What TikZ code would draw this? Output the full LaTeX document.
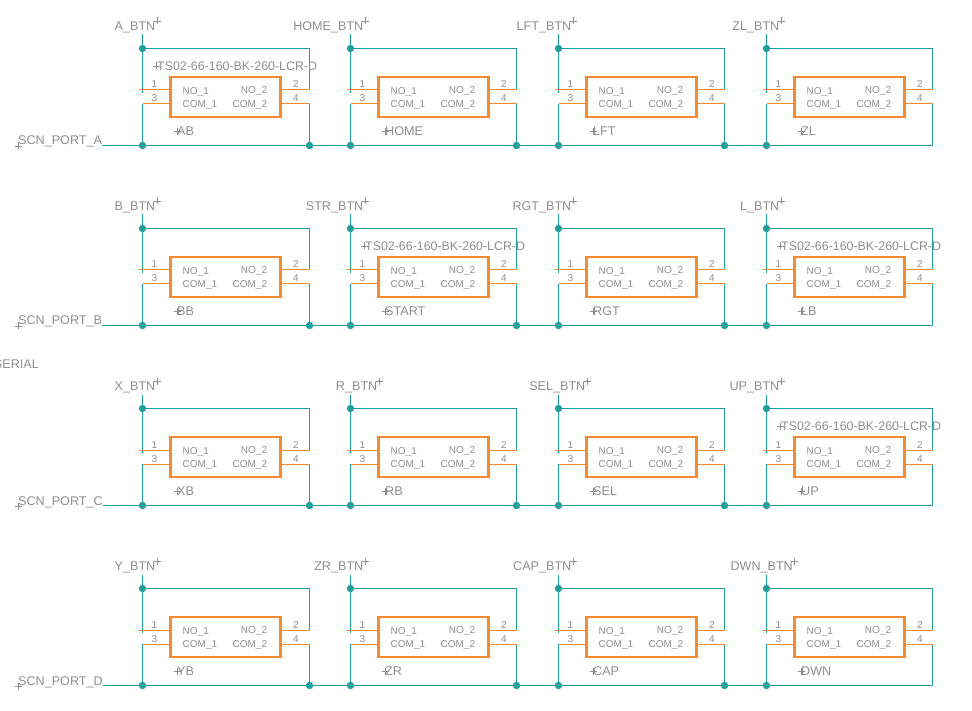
\documentclass[tikz,border=0pt]{standalone}
\usepackage{fontspec}
\setmainfont{Liberation Sans}
\usetikzlibrary{calc}
\definecolor{wirec}{HTML}{1FA09C}
\definecolor{symc}{HTML}{F58B2E}
\definecolor{txtc}{HTML}{8E8E8E}
\tikzset{
  wire/.style={draw=wirec,line width=1pt},
  pinline/.style={draw=symc,line width=1pt},
  partbox/.style={draw=symc,line width=2.5pt,rectangle,inner sep=0pt,minimum width=110pt,minimum height=40pt},
  junction/.style={circle,fill=wirec,draw=none,inner sep=0pt,minimum size=7.4pt},
  txt/.style={text=txtc,inner sep=0pt,font=\fontsize{12.6}{14}\selectfont},
  valtxt/.style={text=txtc,inner sep=0pt,font=\fontsize{12.4}{14}\selectfont},
  small/.style={text=txtc,inner sep=0pt,font=\fontsize{10}{12}\selectfont},
  mk/.style={draw=txtc,line width=0.6pt}
}
\newcommand{\crossmark}[1]{\draw[mk] ($(#1)+(-3.5,0)$) -- ($(#1)+(3.5,0)$) ($(#1)+(0,-3.5)$) -- ($(#1)+(0,3.5)$);}
% id, x, row y offset, net label, reference, value flag, right-hand node style, net mark x, right wire x
\newcommand{\swunit}[9]{%
\begin{scope}[shift={(#2,#3)}]
  \node[partbox] (#1-box) at (83,96.5) {};
  \coordinate (#1-in) at (0,34);
  \coordinate (#1-tick) at (0,92.7);
  \coordinate (#1-p1) at (-3.5,89.5);
  \coordinate (#1-p3) at (0,103.5);
  \coordinate (#1-p2) at (#9,89.5);
  \coordinate (#1-p4) at (#9,103.5);
  \coordinate (#1-tr) at (#9,48);
  \node[junction] (#1-top) at (0,48) {};
  \node[junction] (#1-bl) at (0,145) {};
  \node[#7] (#1-br) at (#9,145) {};
  \draw[wire] (#1-in) -- (#1-top.center) -- (#1-tick);
  \draw[wire] (#1-top.center) -- (#1-tr) -- (#1-p2);
  \draw[wire] (#1-p3) -- (#1-bl.center);
  \draw[wire] (#1-p4) -- (#1-br.center);
  \draw[pinline] (#1-p1) -- (#1-p1 -| #1-box.west);
  \draw[pinline] (#1-p3) -- (#1-p3 -| #1-box.west);
  \draw[pinline] (#1-p2) -- (#1-p2 -| #1-box.east);
  \draw[pinline] (#1-p4) -- (#1-p4 -| #1-box.east);
  \node[small,anchor=base] (#1-n1) at (12,87.5) {1};
  \node[small,anchor=base] (#1-n3) at (12,101.5) {3};
  \node[small,anchor=base] (#1-n2) at (153.5,87.5) {2};
  \node[small,anchor=base] (#1-n4) at (153.5,101.5) {4};
  \node[small,anchor=base west] (#1-no1) at (40,94) {NO\_1};
  \node[small,anchor=base west] (#1-com1) at (40,107.3) {COM\_1};
  \node[small,anchor=base east] (#1-no2) at (124.8,93.3) {NO\_2};
  \node[small,anchor=base east] (#1-com2) at (124.8,107.3) {COM\_2};
  \node[txt,anchor=base east] (#1-net) at ($(#8,30)+(-1.5,0)$) {#4};
  \crossmark{#8,20.5}
  \node[txt,anchor=west] (#1-ref) at (34.5,131) {#5};
  \crossmark{35,131}
  \ifnum#6=1
    \node[valtxt,anchor=west] (#1-val) at (14.5,65.5) {TS02-66-160-BK-260-LCR-D};
    \crossmark{13.5,65.5}
  \fi
\end{scope}}
\begin{document}
\begin{tikzpicture}[x=1pt,y=-1pt]
\useasboundingbox (0,0) rectangle (972,711);
\fill[white] (0,0) rectangle (972,711);
\node[txt,anchor=base east] (serial) at (39,368) {SERIAL};

\swunit{a1}{142.5}{0.5}{A\_BTN}{AB}{1}{junction}{14.5}{167}
\swunit{a2}{350.5}{0.5}{HOME\_BTN}{HOME}{0}{junction}{14.5}{166}
\swunit{a3}{558.5}{0.5}{LFT\_BTN}{LFT}{0}{junction}{14.5}{166}
\swunit{a4}{766.5}{0.5}{ZL\_BTN}{ZL}{0}{coordinate}{14.5}{166}

\swunit{b1}{142.5}{180.5}{B\_BTN}{BB}{0}{junction}{14.5}{167}
\swunit{b2}{350.5}{180.5}{STR\_BTN}{START}{1}{junction}{14.5}{166}
\swunit{b3}{558.5}{180.5}{RGT\_BTN}{RGT}{0}{junction}{14.5}{166}
\swunit{b4}{766.5}{180.5}{L\_BTN}{LB}{1}{coordinate}{14.5}{166}

\swunit{c1}{142.5}{360.5}{X\_BTN}{XB}{0}{junction}{14.5}{167}
\swunit{c2}{350.5}{360.5}{R\_BTN}{RB}{0}{junction}{28.5}{166}
\swunit{c3}{558.5}{360.5}{SEL\_BTN}{SEL}{0}{junction}{28.5}{166}
\swunit{c4}{766.5}{360.5}{UP\_BTN}{UP}{1}{coordinate}{14.5}{166}

\swunit{d1}{142.5}{540.5}{Y\_BTN}{YB}{0}{junction}{14.5}{167}
\swunit{d2}{350.5}{540.5}{ZR\_BTN}{ZR}{0}{junction}{14.5}{166}
\swunit{d3}{558.5}{540.5}{CAP\_BTN}{CAP}{0}{junction}{14.5}{166}
\swunit{d4}{766.5}{540.5}{DWN\_BTN}{DWN}{0}{coordinate}{28}{166}

\foreach \r/\L/\yy in {a/A/145,b/B/325,c/C/505,d/D/685}{
  \node[txt,anchor=base west] (scn\r) at (18,\yy) {SCN\_PORT\_\L};
  \crossmark{18,\yy+1}
  \draw[wire] (scn\r.base east |- \r1-bl) -- (\r1-bl.center) -- (\r1-br.center) -- (\r2-bl.center) -- (\r2-br.center) -- (\r3-bl.center) -- (\r3-br.center) -- (\r4-bl.center) -- (\r4-br);
}
\end{tikzpicture}
\end{document}
